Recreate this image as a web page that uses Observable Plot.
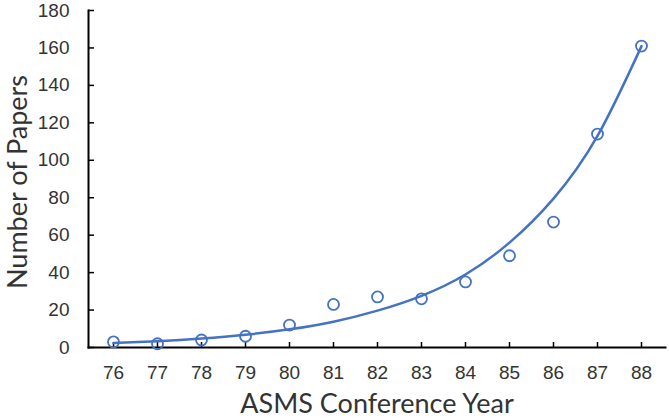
<!DOCTYPE html>
<html>
<head>
<meta charset="utf-8">
<script src="https://cdn.jsdelivr.net/npm/d3@7"></script>
<script src="https://cdn.jsdelivr.net/npm/@observablehq/plot@0.6"></script>
<style>
  html, body { margin: 0; padding: 0; background: #fff; }
  #chart { width: 669px; height: 420px; }
</style>
</head>
<body>
<div id="chart"></div>
<script>
const years = [76, 77, 78, 79, 80, 81, 82, 83, 84, 85, 86, 87, 88];
const papers = [3, 2, 4, 6, 12, 23, 27, 26, 35, 49, 67, 114, 161];
const trend = [2.4, 3.4, 4.8, 6.8, 9.7, 13.8, 19.7, 27.6, 39, 56, 79.5, 113, 161];
const yTicks = [0, 20, 40, 60, 80, 100, 120, 140, 160, 180];
const xTitle = "ASMS Conference Year";
const yTitle = "Number of Papers";

const pts = years.map((y, i) => ({year: y, papers: papers[i]}));
const fit = years.map((y, i) => ({year: y, value: trend[i]}));

const blue = "#4472C4";
const textColor = "#333333";
const titleFont = "Lato, 'Open Sans', sans-serif";

const chart = Plot.plot({
  width: 669,
  height: 420,
  marginLeft: 88,
  marginRight: 4,
  marginTop: 10,
  marginBottom: 73,
  style: {fontFamily: "'Liberation Sans', Arial, sans-serif", fontSize: "19px", color: textColor, background: "#fff"},
  x: {type: "point", domain: years, padding: 0.5},
  y: {domain: [0, 180]},
  marks: [
    Plot.frame({anchor: "left", stroke: "#000", strokeWidth: 2}),
    Plot.frame({anchor: "bottom", stroke: "#000", strokeWidth: 2}),
    Plot.axisY(yTicks, {tickSize: 0, tickPadding: 19, label: null, fill: textColor}),
    Plot.axisY(yTicks, {tickSize: -6, text: null, label: null, stroke: "#000", strokeWidth: 1.5}),
    Plot.axisX(years, {tickSize: 0, tickPadding: 18, label: null, fill: textColor}),
    Plot.axisX(years, {tickSize: -5, text: null, label: null, stroke: "#000", strokeWidth: 1.5}),
    Plot.line(fit, {x: "year", y: "value", curve: "natural", stroke: blue, strokeWidth: 2.5}),
    Plot.dot(pts, {x: "year", y: "papers", r: 5.5, stroke: blue, strokeWidth: 1.8, fill: "none"}),
    Plot.text([xTitle], {frameAnchor: "bottom", dy: 57, textAnchor: "middle", lineAnchor: "middle", fontFamily: titleFont, fontSize: 27, fill: textColor}),
    Plot.text([yTitle], {frameAnchor: "left", dx: -70, dy: 3, rotate: -90, textAnchor: "middle", lineAnchor: "middle", fontFamily: titleFont, fontSize: 27, fill: textColor})
  ]
});
document.getElementById("chart").appendChild(chart);
</script>
</body>
</html>
